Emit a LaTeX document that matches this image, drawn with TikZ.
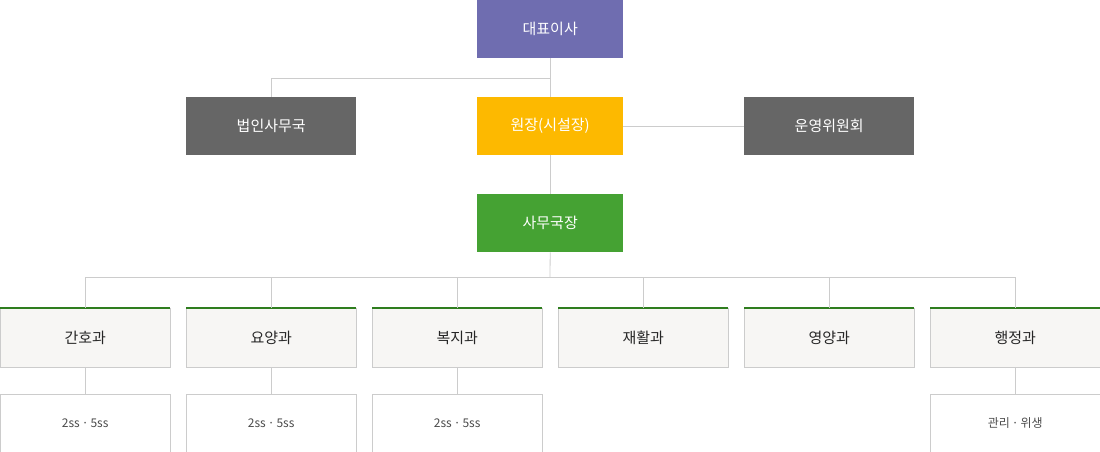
\documentclass[tikz,border=0pt]{standalone}
\usepackage{fontspec}
\setmainfont{Noto Sans CJK KR}
\newfontfamily\krb{Noto Sans CJK KR}[FakeBold=1.5]
\definecolor{purp}{HTML}{6F6DB0}
\definecolor{dgray}{HTML}{666666}
\definecolor{gold}{HTML}{FDB900}
\definecolor{grn}{HTML}{45A233}
\definecolor{dgrn}{HTML}{2E7D1E}
\definecolor{lin}{HTML}{CCCCCC}
\definecolor{dept}{HTML}{F7F6F4}
\begin{document}
\begin{tikzpicture}[x=1pt,y=-1pt,
  top/.style={minimum width=146pt,minimum height=58pt,anchor=north west,inner sep=0pt,text=white,font=\fontsize{15}{18}\selectfont},
  side/.style={top,minimum width=170pt,fill=dgray},
  deptbox/.style={draw=lin,fill=dept,minimum width=170pt,minimum height=59pt,anchor=north west,inner sep=0pt,font=\fontsize{15}{18}\selectfont,text=black!85},
  subbox/.style={draw=lin,fill=white,minimum width=170pt,minimum height=58pt,anchor=north west,inner sep=0pt,font=\fontsize{12}{14}\selectfont,text=black!70},
  conn/.style={draw=lin,line width=0.8pt}]
\useasboundingbox (0,0) rectangle (1100,452);
\node[top,fill=purp] (ceo) at (477,0) {대표이사};
\node[side] (corp) at (186,97) {법인사무국};
\node[top,fill=gold] (dir) at (477,97) {원장(시설장)};
\node[side] (comm) at (744,97) {운영위원회};
\node[top,fill=grn] (sec) at (477,194) {사무국장};
\coordinate (j1) at (550,78);
\coordinate (j2) at (550,277);
\draw[conn] (ceo.south) -- (dir.north);
\draw[conn] (j1) -| (corp.north);
\draw[conn] (dir.east) -- (comm.west);
\draw[conn] (dir.south) -- (sec.north);
\draw[conn] (sec.south) -- (j2);
\foreach \i/\t in {0/간호과,1/요양과,2/복지과,3/재활과,4/영양과,5/행정과}{
  \node[deptbox] (d\i) at ({\i*186},308) {\t};
  \draw[dgrn,line width=1.5pt] (d\i.north west) -- (d\i.north east);
  \draw[conn] (j2) -| (d\i.north);
}
\foreach \i/\t in {0/2ss\,·\,5ss,1/2ss\,·\,5ss,2/2ss\,·\,5ss,5/관리\,·\,위생}{
  \node[subbox] (s\i) at ({\i*186},394) {\t};
  \draw[conn] (d\i.south) -- (s\i.north);
}
\end{tikzpicture}
\end{document}
